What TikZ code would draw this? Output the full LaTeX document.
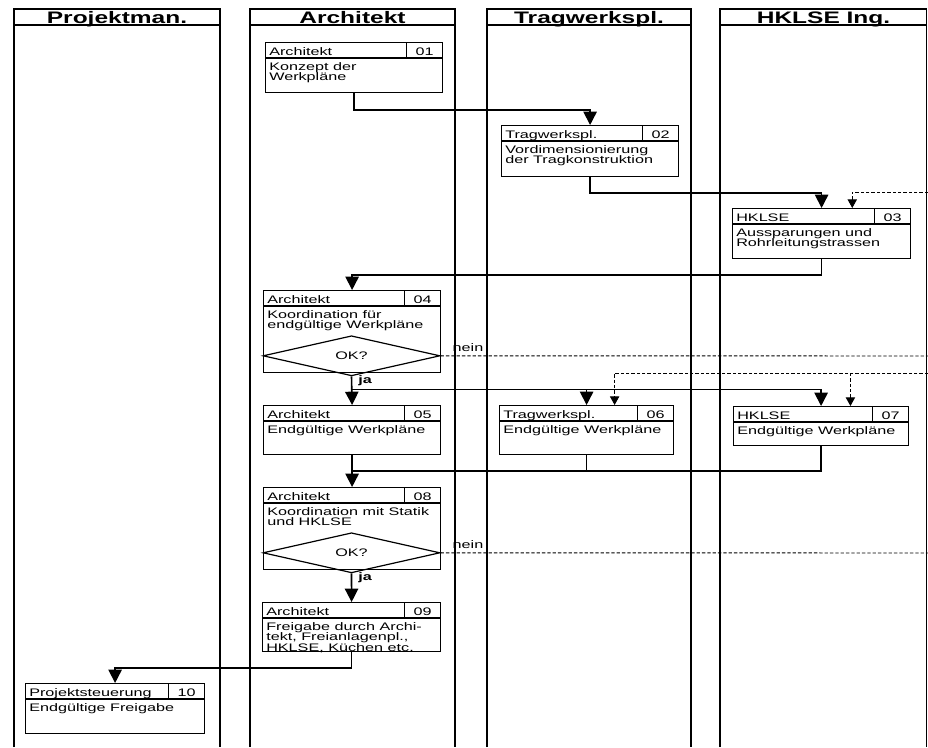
\documentclass[tikz,border=0pt]{standalone}
\usepackage{fontspec}
\setmainfont{Liberation Sans}
\newfontfamily\boxfont[FakeStretch=1.48]{Liberation Sans}
\newfontfamily\headfont[FakeStretch=1.47]{Liberation Sans}
\usetikzlibrary{arrows.meta,shapes.geometric,calc}
\tikzset{
  lane/.style={line width=1.4pt},
  boxline/.style={line width=0.9pt},
  tbox/.style={draw, line width=0.9pt, fill=white, anchor=north west, inner sep=0pt},
  flow/.style={line width=1.2pt, -{Triangle[length=10pt,width=10pt]}},
  plain/.style={line width=1.2pt},
  dflow/.style={line width=0.7pt, dash pattern=on 2.5pt off 1.5pt, -{Triangle[length=6.5pt,width=7pt]}},
  dline/.style={line width=0.7pt, dash pattern=on 2.5pt off 1.5pt},
  btext/.style={font=\boxfont\fontsize{8.2pt}{8pt}\selectfont, inner sep=0pt},
  htext/.style={font=\headfont\bfseries\fontsize{12.5pt}{14pt}\selectfont, inner sep=0pt},
  jtext/.style={font=\boxfont\bfseries\fontsize{8.2pt}{8pt}\selectfont, inner sep=0pt},
}
\newcommand\taskbox[8]{%
  \node[tbox, minimum width=#4*0.75pt, minimum height=#5*0.75pt] (#1) at (#2,#3) {};
  \draw[boxline] ([yshift=-12pt]#1.north west) -- ([yshift=-12pt]#1.north east);
  \draw[boxline] ([xshift=-27.75pt]#1.north east) -- ([xshift=-27.75pt,yshift=-12pt]#1.north east);
  \node[btext, anchor=base west] (#1r) at ([xshift=3pt,yshift=-9.75pt]#1.north west) {#6};
  \node[btext, anchor=base] (#1n) at ([xshift=-13.9pt,yshift=-9.75pt]#1.north east) {#7};
  \node[btext, anchor=north west, align=left] (#1t) at ([xshift=3pt,yshift=-15pt]#1.north west) {#8};
}
\begin{document}
\begin{tikzpicture}[x=0.75pt,y=-0.75pt]
\useasboundingbox (0,0) rectangle (928,747);
\fill[white] (0,0) rectangle (928,747);
% lanes
\draw[lane] (14,747) -- (14,9) -- (220,9) -- (220,747);
\draw[lane] (14,25) -- (220,25);
\node[htext, anchor=base] (l1) at (117,23) {Projektman.};
\draw[lane] (250,747) -- (250,9) -- (455,9) -- (455,747);
\draw[lane] (250,25) -- (455,25);
\node[htext, anchor=base] (l2) at (352.5,23) {Architekt};
\draw[lane] (487,747) -- (487,9) -- (691,9) -- (691,747);
\draw[lane] (487,25) -- (691,25);
\node[htext, anchor=base] (l3) at (589,23) {Tragwerkspl.};
\draw[lane] (720,747) -- (720,9) -- (926.5,9) -- (926.5,747);
\draw[lane] (720,25) -- (926.5,25);
\node[htext, anchor=base] (l4) at (823.5,23) {HKLSE Ing.};
% boxes
\taskbox{b01}{265}{42}{177}{50}{Architekt}{01}{Konzept der\\Werkpläne}
\taskbox{b02}{501}{125}{177}{51}{Tragwerkspl.}{02}{Vordimensionierung\\der Tragkonstruktion}
\taskbox{b03}{732}{208}{178}{50}{HKLSE}{03}{Aussparungen und\\Rohrleitungstrassen}
\taskbox{b04}{263}{290}{177}{82}{Architekt}{04}{Koordination für\\endgültige Werkpläne}
\taskbox{b05}{263}{405}{177}{49}{Architekt}{05}{Endgültige Werkpläne}
\taskbox{b06}{499}{405}{174}{49}{Tragwerkspl.}{06}{Endgültige Werkpläne}
\taskbox{b07}{733}{406}{175}{39}{HKLSE}{07}{Endgültige Werkpläne}
\taskbox{b08}{263}{487}{177}{82}{Architekt}{08}{Koordination mit Statik\\und HKLSE}
\taskbox{b09}{262}{602}{178}{49}{Architekt}{09}{Freigabe durch Archi-\\tekt, Freianlagenpl.,\\HKLSE, Küchen etc.}
\taskbox{b10}{25}{683}{179}{50}{Projektsteuerung}{10}{Endgültige Freigabe}
% decisions
\node[diamond, draw, line width=0.9pt, minimum width=177*0.75pt, minimum height=33*0.75pt, btext] (d04) at (351.5,355.8) {OK?};
\node[diamond, draw, line width=0.9pt, minimum width=177*0.75pt, minimum height=33*0.75pt, btext] (d08) at (351.5,552.8) {OK?};
% coordinates at right edge
\coordinate (r1) at (928,192);
\coordinate (r2) at (928,373);
\coordinate (r3) at (928,356);
\coordinate (r4) at (928,553);
\coordinate (j1) at (351.5,389.5);
\coordinate (j2) at (351.5,471);
% connectors
\draw[flow] (b01.south) -- ++(0,17) -| (b02.north);
\draw[flow] (b02.south) -- ++(0,16) -| (b03.north);
\draw[dflow] (r1) -| ([xshift=23pt]b03.north);
\draw[flow] (b03.south) -- ++(0,16) -| (b04.north);
\draw[dline] (d04.east) -- (r3);
\node[btext, anchor=base] (n1) at (468,351) {nein};
\draw[flow] (d04.south) -- (b05.north);
\node[jtext, anchor=base west] (ja1) at (358,383) {ja};
\draw[flow] (j1) -| (b06.north);
\draw[flow] (j1) -| (b07.north);
\draw[dflow] (r2) -| ([xshift=21pt]b06.north);
\draw[dflow] ([xshift=22pt]b07.north |- r2) -- ([xshift=22pt]b07.north);
\draw[plain] (b06.south) |- (j2);
\draw[plain] (b07.south) |- (j2);
\draw[flow] (b05.south) -- (b08.north);
\draw[dline] (d08.east) -- (r4);
\node[btext, anchor=base] (n2) at (468,548) {nein};
\draw[flow] (d08.south) -- (b09.north);
\node[jtext, anchor=base west] (ja2) at (358,580) {ja};
\draw[flow] (b09.south) -- ++(0,16) -| (b10.north);
\end{tikzpicture}
\end{document}
